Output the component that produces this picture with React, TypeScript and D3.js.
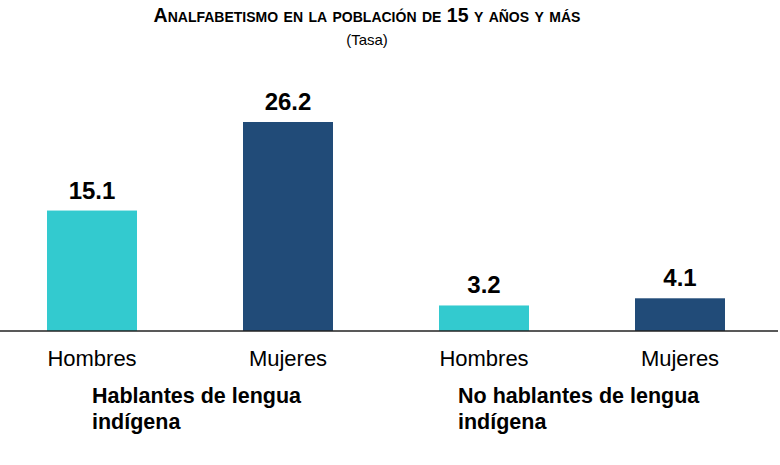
import React from "react";
import * as d3 from "d3";

const categories = ["Hombres", "Mujeres", "Hombres", "Mujeres"];
const values = [15.1, 26.2, 3.2, 4.1];
const colors = ["#33CACF", "#214B78", "#33CACF", "#214B78"];
const groups = [
  ["Hablantes de lengua", "indígena"],
  ["No hablantes de lengua", "indígena"],
];

export default function App() {
  const W = 780, H = 465, base = 331;
  const x = d3.scaleBand<number>().domain([0, 1, 2, 3]).range([47, 725]).paddingInner(106 / 196).paddingOuter(0);
  const y = d3.scaleLinear().domain([0, 26.2]).range([base, 122]);
  const font = "Liberation Sans, Arial, sans-serif";
  return (
    <svg width={W} height={H} style={{ position: "absolute", left: 0, top: 0, fontFamily: font }}>
      <text x={367} y={22} textAnchor="middle" fontWeight="bold" fontSize={19.5} style={{ fontVariant: "small-caps" }}>
        Analfabetismo en la población de 15 y años y más
      </text>
      <text x={367} y={45} textAnchor="middle" fontSize={15}>(Tasa)</text>
      {values.map((v, i) => (
        <g key={i}>
          <rect x={x(i)} y={y(v)} width={x.bandwidth()} height={base - y(v)} fill={colors[i]} />
          <text x={x(i)! + x.bandwidth() / 2} y={y(v) - 12} textAnchor="middle" fontWeight="bold" fontSize={24}>{v.toFixed(1)}</text>
          <text x={x(i)! + x.bandwidth() / 2} y={366} textAnchor="middle" fontSize={22}>{categories[i]}</text>
        </g>
      ))}
      <line x1={0} x2={778} y1={base} y2={base} stroke="#222" strokeWidth={1.5} />
      {groups.map((g, gi) => (
        <text key={gi} x={gi === 0 ? 92 : 458} fontWeight="bold" fontSize={21.5}>
          <tspan x={gi === 0 ? 92 : 458} y={403}>{g[0]}</tspan>
          <tspan x={gi === 0 ? 92 : 458} y={429}>{g[1]}</tspan>
        </text>
      ))}
    </svg>
  );
}
